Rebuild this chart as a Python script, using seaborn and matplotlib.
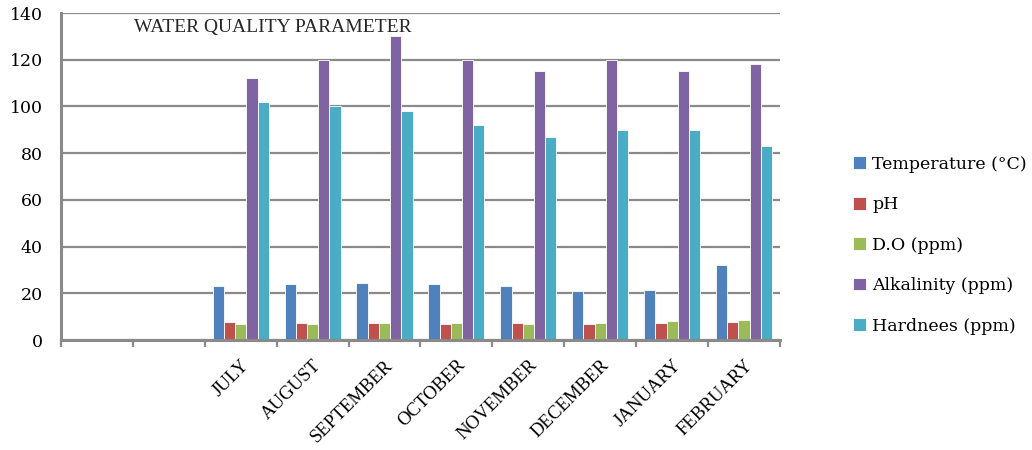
import pandas as pd
import matplotlib.pyplot as plt
import seaborn as sb
from matplotlib.ticker import FixedLocator

# chart data #
months = ['', ' ', 'JULY', 'AUGUST', 'SEPTEMBER', 'OCTOBER', 'NOVEMBER',
          'DECEMBER', 'JANUARY', 'FEBRUARY']
data_months = months[2:]
temperature = [23.0, 24.0, 24.3, 23.8, 23.0, 21.0, 21.4, 32.0]
ph = [7.6, 7.2, 7.2, 7.0, 7.2, 7.0, 7.4, 7.6]
do = [7.0, 6.8, 7.2, 7.4, 6.8, 7.4, 8.0, 8.5]
alkalinity = [112, 120, 130, 120, 115, 120, 115, 118]
hardness = [102, 100, 98, 92, 87, 90, 90, 83]
series_names = ['Temperature (°C)', 'pH', 'D.O (ppm)', 'Alkalinity (ppm)', 'Hardnees (ppm)']
colors = ['#4F81BD', '#C0504D', '#9BBB59', '#8064A2', '#4BACC6']

rows = []
for name, vals in zip(series_names, [temperature, ph, do, alkalinity, hardness]):
    for m, v in zip(data_months, vals):
        rows.append({'month': m, 'param': name, 'value': v})
df = pd.DataFrame(rows)

sb.set_style('white')
plt.rcParams['font.family'] = ['DejaVu Serif']

fig = plt.figure(figsize=(10.32, 4.5), dpi=100)
ax = fig.add_axes([0.0591, 0.2444, 0.6967, 0.7267])

sb.barplot(data=df, x='month', y='value', hue='param', order=months,
           hue_order=series_names, palette=colors, saturation=1, width=0.78, gap=0,
           edgecolor='white', linewidth=0.6, ax=ax)

# configure axes #
ax.set_ylim(0, 140)
ax.set_xlim(-0.5, len(months) - 0.5)
ax.set_yticks(range(0, 141, 20))
ax.yaxis.grid(True, color='#8a8a8a', linewidth=1.6)
ax.set_axisbelow(True)
ax.set_xlabel('')
ax.set_ylabel('')
for side in ['top', 'right']:
    ax.spines[side].set_visible(False)
for side in ['left', 'bottom']:
    ax.spines[side].set_color('#8a8a8a')
    ax.spines[side].set_linewidth(2.2)

ax.tick_params(axis='y', length=5, width=1.6, color='#8a8a8a', labelsize=12.5,
               labelcolor='black', pad=8)
ax.tick_params(axis='x', which='major', length=0, pad=12, labelcolor='black')
ax.xaxis.set_minor_locator(FixedLocator([i - 0.5 for i in range(len(months) + 1)]))
ax.tick_params(axis='x', which='minor', length=5, width=1.6, color='#8a8a8a', bottom=True)
ax.set_xticks(range(len(months)))
ax.set_xticklabels(months, rotation=45, ha='right', rotation_mode='anchor',
                   fontsize=13.5, family='Liberation Serif')

ax.text(0.101, 0.955, 'WATER QUALITY PARAMETER', transform=ax.transAxes,
        fontsize=14, family='Liberation Serif', va='center', ha='left')

handles, labels = ax.get_legend_handles_labels()
leg = ax.legend(handles, labels, loc='center left', bbox_to_anchor=(1.08, 0.29),
                frameon=False, fontsize=12.5, labelspacing=1.35, handlelength=0.75,
                handleheight=0.75, handletextpad=0.35)
for t in leg.get_texts():
    t.set_color('black')

plt.savefig('out.png', dpi=100)
